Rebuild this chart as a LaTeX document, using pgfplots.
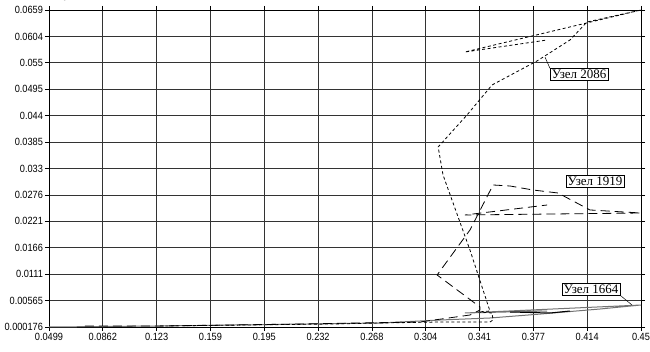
\documentclass[border=0pt]{standalone}
\usepackage{fontspec}
\setmainfont{Liberation Serif}
\newfontfamily\narrowsans[FakeStretch=0.88]{Liberation Sans}
\usepackage{pgfplots}
\pgfplotsset{compat=1.18}
\begin{document}
\begin{tikzpicture}
\begin{axis}[
  scale only axis, width=592bp, height=317bp,
  xmin=0.0499, xmax=0.45, ymin=0.000176, ymax=0.0659,
  xtick={0.0499,0.08627,0.12265,0.15902,0.19539,0.23177,0.26814,0.30451,0.34088,0.37726,0.41363,0.45},
  xticklabels={0.0499,0.0862,0.123,0.159,0.195,0.232,0.268,0.304,0.341,0.377,0.414,0.45},
  ytick={0.000176,0.005653,0.011130,0.016607,0.022084,0.027561,0.033038,0.038515,0.043992,0.049469,0.054946,0.060423,0.0659},
  yticklabels={0.000176,0.00565,0.0111,0.0166,0.0221,0.0276,0.033,0.0385,0.044,0.0495,0.055,0.0604,0.0659},
  grid=major, major grid style={black!80, line width=0.8bp},
  axis line style={black, line width=0.8bp},
  tick align=outside, major tick length=4bp, tick style={black, line width=0.8bp},
  ticklabel style={font=\narrowsans\fontsize{10.5}{10.5}\selectfont},
  yticklabel style={xshift=1.5bp},
  xticklabel style={yshift=1bp},
]
% Node 1664 (solid)
\addplot[black!55, line width=1bp] coordinates {
 (0.0499,0.000176) (0.1249,0.000383) (0.1756,0.000591) (0.2736,0.001005)
 (0.3142,0.001627) (0.3479,0.002042) (0.3824,0.002871) (0.4223,0.003908)
 (0.45,0.004737) (0.3310,0.003079) (0.3865,0.003493)
};
\addplot[black, line width=1bp] coordinates {
 (0.3615,0.003286) (0.3885,0.003079) (0.4020,0.003493)
};
% Node 1919 (long dashed)
\addplot[black, line width=0.8bp, dash pattern=on 9bp off 5bp] coordinates {
 (0.0742,0.000383) (0.1249,0.000383) (0.2195,0.000798) (0.3006,0.001213)
 (0.3344,0.002664) (0.3412,0.003701) (0.3412,0.004323) (0.3122,0.01096)
 (0.3344,0.02029) (0.3500,0.02962) (0.3615,0.02941) (0.3770,0.02858)
 (0.3939,0.02796) (0.4155,0.02444) (0.45,0.02381) (0.3310,0.02340)
 (0.3865,0.02547)
};
% Node 2086 (short dashed)
\addplot[black, line width=0.8bp, dash pattern=on 3bp off 2.5bp] coordinates {
 (0.1249,0.000383) (0.2418,0.000798) (0.2736,0.001005) (0.3142,0.001213)
 (0.3479,0.001213) (0.3500,0.001627) (0.3493,0.003079) (0.3398,0.003286)
 (0.3479,0.003493) (0.3344,0.01614) (0.3162,0.03169) (0.3129,0.03750)
 (0.3324,0.04413) (0.3493,0.05035) (0.3797,0.05533) (0.4020,0.05968)
 (0.4135,0.06341) (0.45,0.0659) (0.3310,0.05719) (0.3865,0.05968)
};
% labels
\node[draw=black, fill=white, inner sep=1.6bp, font=\fontsize{13}{13}\selectfont] (l2086) at (axis cs:0.4081,0.05253) {Узел 2086};
\draw[black, line width=0.5bp] (l2086.north west) -- (axis cs:0.3851,0.05615);
\node[draw=black, fill=white, inner sep=1.6bp, font=\fontsize{13}{13}\selectfont] (l1919) at (axis cs:0.4189,0.03045) {Узел 1919};
\node[draw=black, fill=white, inner sep=1.6bp, font=\fontsize{13}{13}\selectfont] (l1664) at (axis cs:0.4162,0.00805) {Узел 1664};
\draw[black, line width=0.5bp] (l1664.south east) -- (axis cs:0.4439,0.00474);
\end{axis}
\pgfresetboundingbox
\useasboundingbox (-49bp,-25bp) rectangle (601bp,327bp);
\end{tikzpicture}
\end{document}
